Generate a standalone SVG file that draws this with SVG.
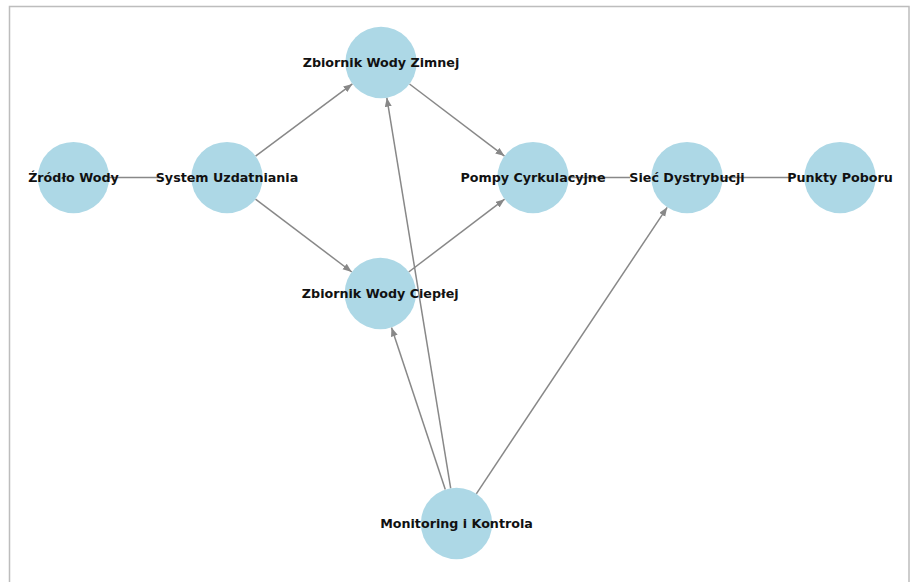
<svg xmlns="http://www.w3.org/2000/svg" width="914" height="582" viewBox="0 0 914 582">
<style>
.node{fill:#ADD8E6}
.lbl{font-family:"DejaVu Sans","Liberation Sans",sans-serif;font-weight:bold;font-size:12.7px;fill:#111;text-anchor:middle}
.edge{stroke:#888888;stroke-width:1.5;fill:none}
.arr{marker-end:url(#ah)}
</style>
<defs>
<marker id="ah" markerUnits="userSpaceOnUse" markerWidth="10" markerHeight="8" refX="9" refY="3.5" orient="auto">
<path d="M0,0 L9,3.5 L0,7 z" fill="#888888"/>
</marker>
</defs>
<rect x="9.5" y="6.5" width="899.5" height="590" fill="#fff" stroke="#bdbdbd" stroke-width="1.5"/>
<g id="connectors">
<line class="edge" x1="109" y1="177.6" x2="160" y2="177.6"/>
<line class="edge" x1="569" y1="177.6" x2="630" y2="177.6"/>
<line class="edge" x1="723" y1="177.6" x2="790" y2="177.6"/>
<line class="edge arr" x1="255.6" y1="156.2" x2="352.4" y2="83.9"/>
<line class="edge arr" x1="255.5" y1="199.1" x2="351.8" y2="272"/>
<line class="edge arr" x1="409.5" y1="84" x2="504.5" y2="156.1"/>
<line class="edge arr" x1="408.7" y1="272" x2="504.6" y2="199.2"/>
<line class="edge arr" x1="450.7" y1="488.3" x2="386.8" y2="97.7"/>
<line class="edge arr" x1="445.3" y1="489.6" x2="391.5" y2="327.4"/>
<line class="edge arr" x1="476.3" y1="493.8" x2="667.2" y2="207.3"/>
</g>
<g id="zrodlo-wody"><circle class="node" cx="73.5" cy="177.6" r="35.7"/><text class="lbl" x="73.5" y="182.2">Źródło Wody</text></g>
<g id="system-uzdatniania"><circle class="node" cx="227" cy="177.6" r="35.7"/><text class="lbl" x="227" y="182.2">System Uzdatniania</text></g>
<g id="zbiornik-wody-zimnej"><circle class="node" cx="381" cy="62.5" r="35.7"/><text class="lbl" x="381" y="67.1">Zbiornik Wody Zimnej</text></g>
<g id="zbiornik-wody-cieplej"><circle class="node" cx="380.3" cy="293.5" r="35.7"/><text class="lbl" x="380.3" y="298.1">Zbiornik Wody Ciepłej</text></g>
<g id="pompy-cyrkulacyjne"><circle class="node" cx="533" cy="177.6" r="35.7"/><text class="lbl" x="533" y="182.2">Pompy Cyrkulacyjne</text></g>
<g id="siec-dystrybucji"><circle class="node" cx="687" cy="177.6" r="35.7"/><text class="lbl" x="687" y="182.2">Sieć Dystrybucji</text></g>
<g id="punkty-poboru"><circle class="node" cx="840" cy="177.6" r="35.7"/><text class="lbl" x="840" y="182.2">Punkty Poboru</text></g>
<g id="monitoring-i-kontrola"><circle class="node" cx="456.5" cy="523.5" r="35.7"/><text class="lbl" x="456.5" y="528.1">Monitoring i Kontrola</text></g>
</svg>
